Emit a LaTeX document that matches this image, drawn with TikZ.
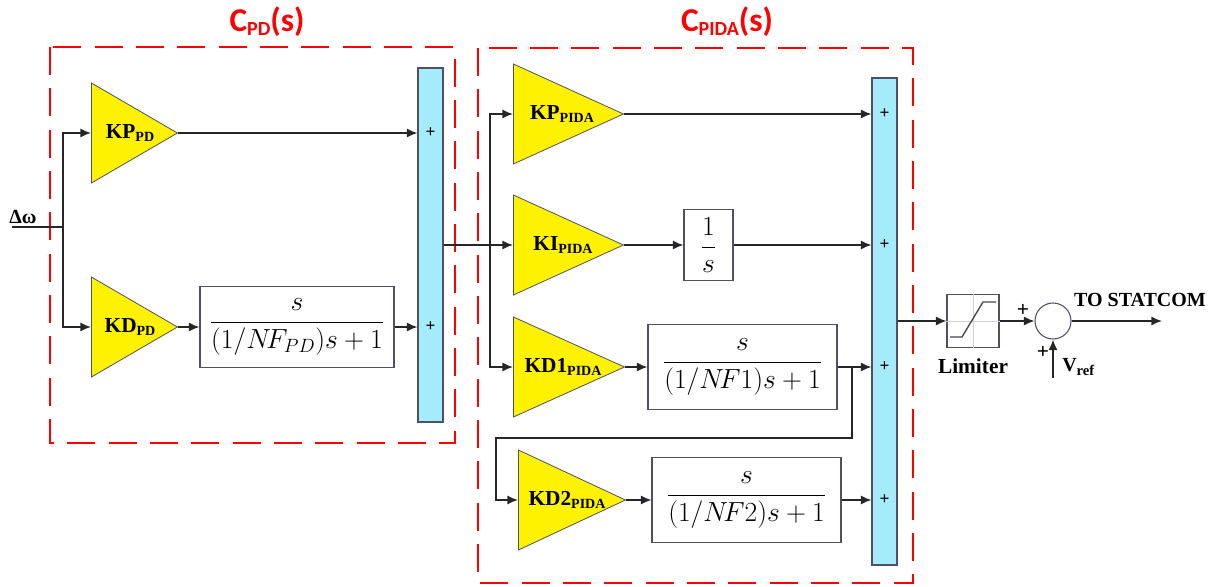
\documentclass[tikz,border=0pt]{standalone}
\usepackage{fontspec}
\usetikzlibrary{arrows.meta,shapes.geometric,calc}
\newfontfamily\camf{Liberation Serif}
\newfontfamily\ttlf{Carlito}
\definecolor{sumC}{RGB}{165,236,250}
\definecolor{edgeC}{RGB}{80,80,100}
\definecolor{redD}{RGB}{255,0,0}
\def\pxu{0.75pt}
\newcommand\gsub[2]{#1\raisebox{-2pt}{\fontsize{10.5}{10.5}\selectfont #2}}
\newcommand\tsub[2]{#1\raisebox{-3pt}{\fontsize{15}{15}\selectfont #2}}
\begin{document}
\begin{tikzpicture}[x=0.75pt,y=-0.75pt,
  >={Latex[length=8pt,width=7pt]},
  wire/.style={line width=1.4pt, black!85},
  gain/.style={isosceles triangle, isosceles triangle stretches, shape border rotate=0,
     minimum height={#1*\pxu}, minimum width={100*\pxu}, inner sep=0pt,
     fill=yellow, draw=edgeC, line width=0.6pt, anchor=west},
  gtext/.style={font=\camf\bfseries\fontsize{16}{16}\selectfont, inner sep=0pt},
  tfbox/.style={draw=edgeC, line width=0.8pt, fill=white, inner sep=0pt},
  sumbar/.style={draw=edgeC, line width=0.8pt, fill=sumC, minimum width={25*\pxu}, inner sep=0pt},
  plus/.style={font=\camf\bfseries\fontsize{13}{13}\selectfont, inner sep=0pt},
  grp/.style={draw=redD, line width=2.2pt, dash pattern=on 21pt off 10pt},
  ttl/.style={text=redD, font=\ttlf\bfseries\fontsize{25}{25}\selectfont, inner sep=0pt},
  lbl/.style={font=\camf\bfseries\fontsize{15}{15}\selectfont, inner sep=0pt}
]
\useasboundingbox (0,0) rectangle (1219,586);

% group boxes and titles
\draw[grp] (50,47) rectangle (455,443);
\draw[grp] (478,48) rectangle (913,583);
\node[ttl] (tpd) at (267,22) {\tsub{C}{PD}(s)};
\node[ttl] (tpida) at (727,22) {\tsub{C}{PIDA}(s)};

% C_PD blocks
\node[gain=86] (kppd) at (91,133) {};
\node[gtext] (kppdt) at (130,133) {\gsub{KP}{PD}};
\node[gain=86] (kdpd) at (91,327) {};
\node[gtext] (kdpdt) at (130,327) {\gsub{KD}{PD}};
\node[tfbox, minimum width={194*\pxu}, minimum height={81*\pxu}] (fpd) at (297,327)
  {\fontsize{20}{20}\selectfont$\displaystyle\frac{s}{(1/N\!F_{PD})s+1}$};
\node[sumbar, minimum height={354*\pxu}] (s1) at (430.5,245) {};
\node[plus] (p11) at (430.5,133) {+};
\node[plus] (p12) at (430.5,327) {+};

% C_PIDA blocks
\node[gain=110] (kppida) at (513,114) {};
\node[gtext] (kppidat) at (562,114) {\gsub{KP}{PIDA}};
\node[gain=110] (kipida) at (513,245) {};
\node[gtext] (kipidat) at (563,245) {\gsub{KI}{PIDA}};
\node[tfbox, minimum width={49*\pxu}, minimum height={71*\pxu}] (int) at (708.5,245)
  {\fontsize{20}{20}\selectfont$\displaystyle\frac{1}{s}$};
\node[gain=111] (kd1) at (513,367) {};
\node[gtext] (kd1t) at (563,367) {\gsub{KD1}{PIDA}};
\node[tfbox, minimum width={189*\pxu}, minimum height={85*\pxu}] (f1) at (742.5,367)
  {\fontsize{20}{20}\selectfont$\displaystyle\frac{s}{(1/N\!F1)s+1}$};
\node[gain=107] (kd2) at (518,500) {};
\node[gtext] (kd2t) at (567,500) {\gsub{KD2}{PIDA}};
\node[tfbox, minimum width={189*\pxu}, minimum height={85*\pxu}] (f2) at (746.5,500)
  {\fontsize{20}{20}\selectfont$\displaystyle\frac{s}{(1/N\!F2)s+1}$};
\node[sumbar, minimum height={487*\pxu}] (s2) at (884.5,321.5) {};
\node[plus] (p21) at (884.5,114) {+};
\node[plus] (p22) at (884.5,245) {+};
\node[plus] (p23) at (884.5,367) {+};
\node[plus] (p24) at (884.5,500) {+};

% limiter and summing junction
\node[tfbox, minimum width={52*\pxu}, minimum height={53*\pxu}] (lim) at (973,321) {};
\draw[gray!35, line width=0.5pt] (lim.north) -- (lim.south) (lim.west) -- (lim.east);
\draw[gray!55!black, line width=1pt] ($(lim.center)+(-23,16)$) -- ($(lim.center)+(-11,16)$)
   -- ($(lim.center)+(10,-19)$) -- ($(lim.center)+(23,-19)$);
\node[lbl, font=\camf\bfseries\fontsize{16}{16}\selectfont] (limt) at (973,366) {Limiter};
\node[circle, draw=edgeC, line width=0.8pt, minimum size={36*\pxu}, inner sep=0pt] (sumc) at (1053,321) {};
\node[plus, font=\camf\bfseries\fontsize{16}{16}\selectfont] (pa) at (1023,310) {+};
\node[plus, font=\camf\bfseries\fontsize{16}{16}\selectfont] (pb) at (1043,352) {+};
\node[lbl, anchor=west] (vref) at (1062,367) {V\raisebox{-3pt}{\fontsize{11}{11}\selectfont ref}};
\node[lbl] (stat) at (1140,300) {TO STATCOM};
\coordinate (vin) at (1053,378);
\coordinate (out) at (1162,321);

% input
\node[lbl, anchor=south west] (dw) at (9,224) {Δω};
\coordinate (in) at (12,227);
\coordinate (b1) at (63,227);
\coordinate (b2) at (490,245);
\coordinate (b3) at (852,367);
\coordinate (b4) at (496,438);

% connectors
\draw[wire] (in) -- (b1);
\draw[wire,->] (b1) |- (kppd.west);
\draw[wire,->] (b1) |- (kdpd.west);
\draw[wire,->] (kppd.east) -- (kppd.east -| s1.west);
\draw[wire,->] (kdpd.east) -- (fpd.west);
\draw[wire,->] (fpd.east) -- (fpd.east -| s1.west);
\draw[wire] (s1.east) -- (b2);
\draw[wire,->] (b2) -- (kipida.west);
\draw[wire,->] (b2) |- (kppida.west);
\draw[wire,->] (b2) |- (kd1.west);
\draw[wire,->] (kppida.east) -- (kppida.east -| s2.west);
\draw[wire,->] (kipida.east) -- (int.west);
\draw[wire,->] (int.east) -- (int.east -| s2.west);
\draw[wire,->] (kd1.east) -- (f1.west);
\draw[wire,->] (f1.east) -- (f1.east -| s2.west);
\draw[wire,->] (b3) |- (b4) |- (kd2.west);
\draw[wire,->] (kd2.east) -- (f2.west);
\draw[wire,->] (f2.east) -- (f2.east -| s2.west);
\draw[wire,->] (s2.east |- lim.west) -- (lim.west);
\draw[wire,->] (lim.east) -- (sumc.west);
\draw[wire,->] (sumc.east) -- (out);
\draw[wire,->] (vin) -- (sumc.south);
\end{tikzpicture}
\end{document}
